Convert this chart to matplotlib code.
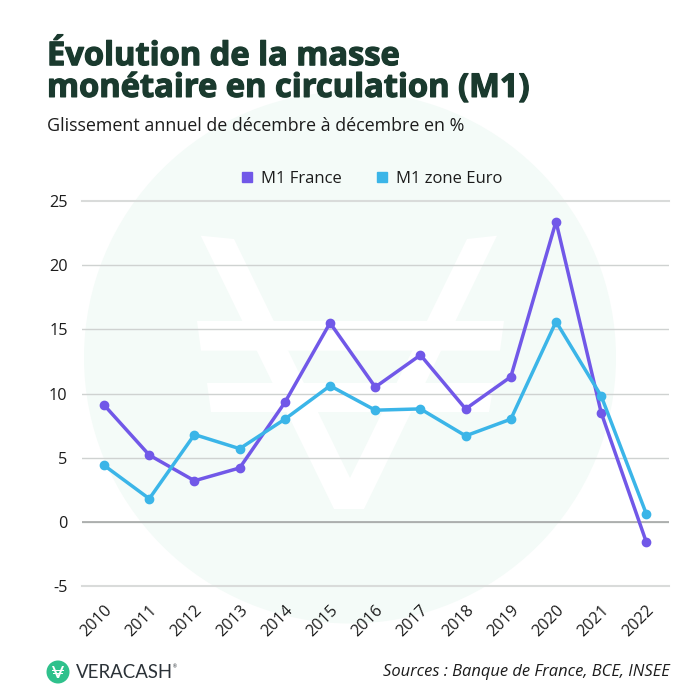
import matplotlib
matplotlib.use("Agg")
import matplotlib.pyplot as plt
import matplotlib.patheffects as pe
from matplotlib.lines import Line2D
from matplotlib.patches import Circle, Polygon

years = ["2010", "2011", "2012", "2013", "2014", "2015", "2016",
         "2017", "2018", "2019", "2020", "2021", "2022"]
m1_france = [9.1, 5.2, 3.2, 4.2, 9.3, 15.5, 10.5, 13.0, 8.8, 11.3, 23.4, 8.5, -1.6]
m1_euro = [4.4, 1.8, 6.8, 5.7, 8.0, 10.6, 8.7, 8.8, 6.7, 8.0, 15.6, 9.8, 0.6]
y_ticks = [-5, 0, 5, 10, 15, 20, 25]
y_labels = ["-5", "0", "5", "10", "15", "20", "25"]

PURPLE = "#7158e8"
BLUE = "#3bb5e8"
DARK = "#1a3a2e"
FONT = "Open Sans"

fig = plt.figure(figsize=(7, 7), dpi=100, facecolor="white")

# background in pixel coords
bg = fig.add_axes([0, 0, 1, 1])
bg.set_xlim(0, 700)
bg.set_ylim(700, 0)
bg.axis("off")
bg.add_patch(Circle((350, 357.5), 266, color="#f4fbf8", lw=0))
# big watermark glyph
bg.add_patch(Polygon([(200.7, 235.7), (234, 239), (350, 478), (467, 239), (497, 235.7),
                      (364, 509), (334, 509)], color="white", lw=0))
bg.add_patch(Polygon([(197, 321), (504, 321), (500, 350.7), (201, 350.7)], color="white", lw=0))
bg.add_patch(Polygon([(207, 383), (494, 383), (489, 412), (211, 412)], color="white", lw=0))

# logo
bg.add_patch(Circle((58, 672), 11.5, color="#2fc18c", lw=0))
bg.add_patch(Polygon([(52, 666), (54, 666), (58, 675), (62, 666), (64, 666), (59, 678), (57, 678)],
                     color="white", lw=0))
bg.add_patch(Polygon([(52, 670), (64, 670), (64, 671), (52, 671)], color="white", lw=0))
bg.add_patch(Polygon([(53, 673), (63, 673), (63, 674), (53, 674)], color="white", lw=0))
bg.text(76, 672.5, "VERACASH", fontsize=13.4, family="Lato", color="#2b3238", va="center", ha="left")
bg.text(173, 667, "®", fontsize=3.5, family="Lato", color="#2b3238", va="center", ha="left")

# title block
title = bg.text(47, 72.5, "Évolution de la masse\nmonétaire en circulation (M1)", fontsize=23.5,
                family=FONT, weight="bold", color=DARK, va="center", ha="left", linespacing=0.95)
title.set_path_effects([pe.withStroke(linewidth=0.9, foreground=DARK)])
bg.text(47, 126, "Glissement annuel de décembre à décembre en %", fontsize=12.83,
        family=FONT, color="#1c1c1c", va="center", ha="left")
bg.text(670, 672, "Sources : Banque de France, BCE, INSEE", fontsize=11.9, family=FONT,
        style="italic", color="#1c1c1c", va="center", ha="right")

# chart
ax = fig.add_axes([81.5 / 700, (700 - 586) / 700, 587.5 / 700, 385 / 700])
ax.patch.set_alpha(0)
x = range(len(years))
ax.plot(x, m1_france, color=PURPLE, lw=2.5, marker="o", ms=6, solid_joinstyle="round", zorder=3)
ax.plot(x, m1_euro, color=BLUE, lw=2.5, marker="o", ms=6, solid_joinstyle="round", zorder=4)
ax.set_xlim(-0.5, 12.5)
ax.set_ylim(-5, 25)
ax.set_yticks(y_ticks)
ax.set_yticklabels(y_labels)
ax.set_xticks(list(x))
ax.set_xticklabels(years, rotation=45, ha="right", rotation_mode="anchor")
ax.tick_params(axis="both", length=0, labelsize=11.7, labelcolor="#1c1c1c")
ax.tick_params(axis="y", pad=10)
ax.tick_params(axis="x", pad=12)
for lab in ax.get_xticklabels() + ax.get_yticklabels():
    lab.set_family(FONT)
for s in ax.spines.values():
    s.set_visible(False)
ax.grid(axis="y", color="#cfd2d1", lw=1, zorder=1)
# outer gridlines are fainter but wider in the original
for line in (ax.get_ygridlines()[0], ax.get_ygridlines()[-1]):
    line.set_color("#d9dbda")
    line.set_linewidth(1.5)
    line.set_clip_on(False)
ax.axhline(0, color="#a6a8a8", lw=1.2, zorder=2)

handles = [Line2D([], [], ls="", marker="s", ms=7.2, color=PURPLE, label="M1 France"),
           Line2D([], [], ls="", marker="s", ms=7.2, color=BLUE, label="M1 zone Euro")]
ax.legend(handles=handles, ncol=2, frameon=False, loc="center", bbox_to_anchor=(0.4926, 1.058),
          prop={"family": FONT, "size": 12}, handlelength=0.9, handletextpad=0.39,
          columnspacing=2.0, labelcolor="#1c1c1c")

fig.savefig("out.png", dpi=100)
